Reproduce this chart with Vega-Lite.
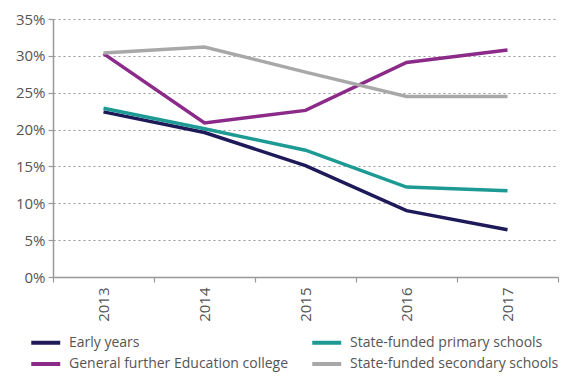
{
  "$schema": "https://vega.github.io/schema/vega-lite/v6.json",
  "width": 505,
  "height": 258,
  "autosize": {"type": "none"},
  "padding": {"left": 53, "top": 19, "right": 24, "bottom": 109},
  "config": {
    "view": {"stroke": null},
    "font": "Open Sans",
    "axis": {"labelFont": "Open Sans", "labelColor": "#555555", "labelFontSize": 15, "domainColor": "#999999", "tickColor": "#999999", "domainWidth": 1.5, "tickWidth": 1.2}
  },
  "data": {
    "values": [
      {"year": "2013", "series": "Early years", "value": 0.224},
      {"year": "2014", "series": "Early years", "value": 0.196},
      {"year": "2015", "series": "Early years", "value": 0.151},
      {"year": "2016", "series": "Early years", "value": 0.090},
      {"year": "2017", "series": "Early years", "value": 0.064},
      {"year": "2013", "series": "State-funded primary schools", "value": 0.229},
      {"year": "2014", "series": "State-funded primary schools", "value": 0.201},
      {"year": "2015", "series": "State-funded primary schools", "value": 0.172},
      {"year": "2016", "series": "State-funded primary schools", "value": 0.122},
      {"year": "2017", "series": "State-funded primary schools", "value": 0.117},
      {"year": "2013", "series": "General further Education college", "value": 0.303},
      {"year": "2014", "series": "General further Education college", "value": 0.209},
      {"year": "2015", "series": "General further Education college", "value": 0.226},
      {"year": "2016", "series": "General further Education college", "value": 0.291},
      {"year": "2017", "series": "General further Education college", "value": 0.308},
      {"year": "2013", "series": "State-funded secondary schools", "value": 0.304},
      {"year": "2014", "series": "State-funded secondary schools", "value": 0.312},
      {"year": "2015", "series": "State-funded secondary schools", "value": 0.278},
      {"year": "2016", "series": "State-funded secondary schools", "value": 0.245},
      {"year": "2017", "series": "State-funded secondary schools", "value": 0.245}
    ]
  },
  "mark": {"type": "line", "strokeWidth": 3.5, "strokeJoin": "miter"},
  "encoding": {
    "x": {
      "field": "year", "type": "nominal", "title": null,
      "scale": {"paddingInner": 0, "paddingOuter": 0},
      "axis": {"labelAngle": -90, "tickBand": "extent", "tickSize": 5, "labelPadding": 5, "grid": false, "labelBaseline": "middle", "labelAlign": "right"}
    },
    "y": {
      "field": "value", "type": "quantitative", "title": null,
      "scale": {"domain": [0, 0.35], "nice": false},
      "axis": {"values": [0, 0.05, 0.1, 0.15, 0.2, 0.25, 0.3, 0.35], "format": ".0%", "tickSize": 5, "labelPadding": 3, "grid": true, "gridDash": [2, 3], "gridColor": "#999999", "gridWidth": 1.2}
    },
    "color": {
      "field": "series", "type": "nominal",
      "scale": {
        "domain": ["Early years", "State-funded primary schools", "General further Education college", "State-funded secondary schools"],
        "range": ["#1e1a5a", "#1d9a93", "#8b2a88", "#a8a8a8"]
      },
      "legend": {
        "title": null, "orient": "none", "legendX": -24, "legendY": 314,
        "columns": 2, "direction": "horizontal",
        "symbolType": "M-1,0H3", "symbolStrokeWidth": 4, "symbolSize": 210,
        "labelFont": "Open Sans", "labelFontSize": 14, "labelColor": "#555555", "labelLimit": 0,
        "columnPadding": 15, "rowPadding": 3.5, "labelOffset": 21
      }
    }
  }
}
